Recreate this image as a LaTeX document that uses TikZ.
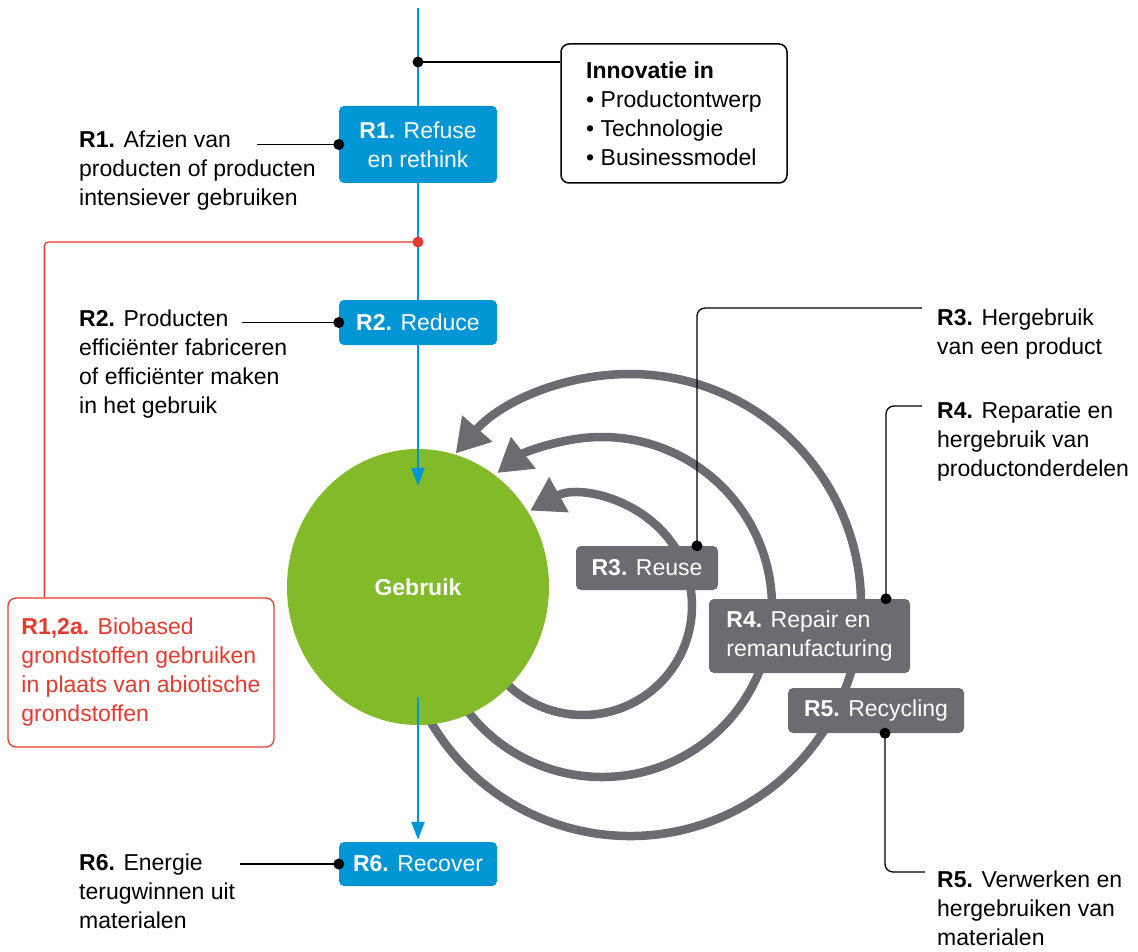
\documentclass[tikz,border=0pt]{standalone}
\usepackage{fontspec}
\setmainfont{Liberation Sans}
\usetikzlibrary{arrows.meta,shapes.geometric}
\definecolor{rblue}{HTML}{0096D6}
\definecolor{rgreen}{HTML}{82BA29}
\definecolor{rgrey}{HTML}{6B6C71}
\definecolor{rred}{HTML}{E63A2E}
\tikzset{
	txt/.style={font=\fontsize{23}{29}\selectfont},
	rbox/.style={txt, rectangle, rounded corners=5pt, fill=rblue, text=white, inner sep=0pt, align=center},
	gbox/.style={rbox, fill=rgrey},
	lbl/.style={txt, anchor=north west, inner sep=0pt, align=left},
	conn/.style={line width=1.3pt, black},
	flow/.style={line width=2.5pt, rblue},
	loop/.style={line width=8.5pt, rgrey, -{Triangle[length=33pt,width=38pt]}}
}
\begin{document}
\begin{tikzpicture}[x=1pt, y=-1pt]
		\useasboundingbox (0,0) rectangle (1138,952);
		\foreach \cx/\cy/\r/\a/\b in {583/606/109/140/-119, 602/607/170/145/-128, 630/605/231/152/-139}{
			\draw[loop] (\cx,\cy) ++(\a:\r) arc[start angle=\a, end angle=\b, radius=\r];}
		\node[ellipse, fill=rgreen, minimum width=262pt, minimum height=276pt, inner sep=0pt, text=white, font=\fontsize{23}{29}\selectfont\bfseries] (gebruik) at (418,587) {Gebruik};

		\node[rbox, minimum width=158pt, minimum height=77pt] (r1) at (418,144.5) {\textbf{R1.} Refuse\\en rethink};
		\node[rbox, minimum width=158pt, minimum height=45pt] (r2) at (418,322.5) {\textbf{R2.} Reduce};
		\node[rbox, minimum width=158pt, minimum height=44pt] (r6) at (418,864) {\textbf{R6.} Recover};
		\node[gbox, minimum width=142pt, minimum height=44pt] (r3) at (647,568) {\textbf{R3.} Reuse};
		\node[gbox, minimum width=201pt, minimum height=74pt, align=left] (r4) at (809.5,636) {\textbf{R4.} Repair en\\remanufacturing};
		\node[gbox, minimum width=176pt, minimum height=45pt] (r5) at (876,710.5) {\textbf{R5.} Recycling};

		\coordinate (top) at (418,8);
		\draw[flow] (top) -- (r1.north);
		\draw[flow] (r1.south) -- (r2.north);
		\draw[flow, -{Triangle[length=18pt,width=13pt]}] (r2.south) -- ([yshift=-37pt]gebruik.north);
		\draw[flow, -{Triangle[length=18pt,width=13pt]}] ([yshift=28pt]gebruik.south) -- ([yshift=2pt]r6.north);

		\node[txt, draw, line width=1.5pt, rounded corners=8pt, minimum width=226pt, minimum height=139pt, inner sep=0pt, align=left] (innov) at (674,113.5)
			{\textbf{Innovatie in}\\• Productontwerp\\• Technologie\\• Businessmodel};
		\coordinate (innodot) at (418,62);
		\draw[conn] (innodot) -- (innodot -| innov.west);
		\fill (innodot) circle (5.5pt);

		\node[txt, draw=rred, text=rred, line width=1.3pt, rounded corners=8pt, minimum width=266pt, minimum height=149pt, inner sep=0pt, align=left] (bio) at (141,672.5)
			{\textbf{R1,2a.} Biobased\\grondstoffen gebruiken\\in plaats van abiotische\\grondstoffen};
		\coordinate (reddot) at (418,242);
		\draw[line width=1.3pt, rred, rounded corners=4pt] (reddot) -| ([xshift=37pt]bio.north west);
		\fill[rred] (reddot) circle (5.5pt);

		\node[lbl] (t1) at (79,126.7) {\strut\textbf{R1.} Afzien van\\producten of producten\\intensiever gebruiken};
		\node[lbl] (t2) at (79,305.7) {\strut\textbf{R2.} Producten\\efficiënter fabriceren\\of efficiënter maken\\in het gebruik};
		\node[lbl] (t6) at (79,849.7) {\strut\textbf{R6.} Energie\\terugwinnen uit\\materialen};
		\node[lbl] (t3) at (937,304.7) {\strut\textbf{R3.} Hergebruik\\van een product};
		\node[lbl] (t4) at (937,397.7) {\strut\textbf{R4.} Reparatie en\\hergebruik van\\productonderdelen};
		\node[lbl] (t5) at (937,866.7) {\strut\textbf{R5.} Verwerken en\\hergebruiken van\\materialen};

		\coordinate (e1) at (257,144.5);
		\coordinate (e2) at (242,322.5);
		\coordinate (e6) at (240,864);
		\coordinate (e3) at (922,308);
		\coordinate (e4) at (922,406);
		\coordinate (e5) at (925,872);
		\foreach \n in {1,2,6}{
			\draw[conn] (e\n) -- (r\n.west);
			\fill (r\n.west) circle (5.5pt);}
		\draw[conn, rounded corners=8pt] ([xshift=50pt]r3.north) |- (e3);
		\fill ([xshift=50pt]r3.north) circle (5.5pt);
		\draw[conn, rounded corners=8pt] ([xshift=76.5pt]r4.north) |- (e4);
		\fill ([xshift=76.5pt]r4.north) circle (5.5pt);
		\draw[conn, rounded corners=8pt] ([xshift=9pt]r5.south) |- (e5);
		\fill ([xshift=9pt]r5.south) circle (5.5pt);
\end{tikzpicture}
\end{document}
